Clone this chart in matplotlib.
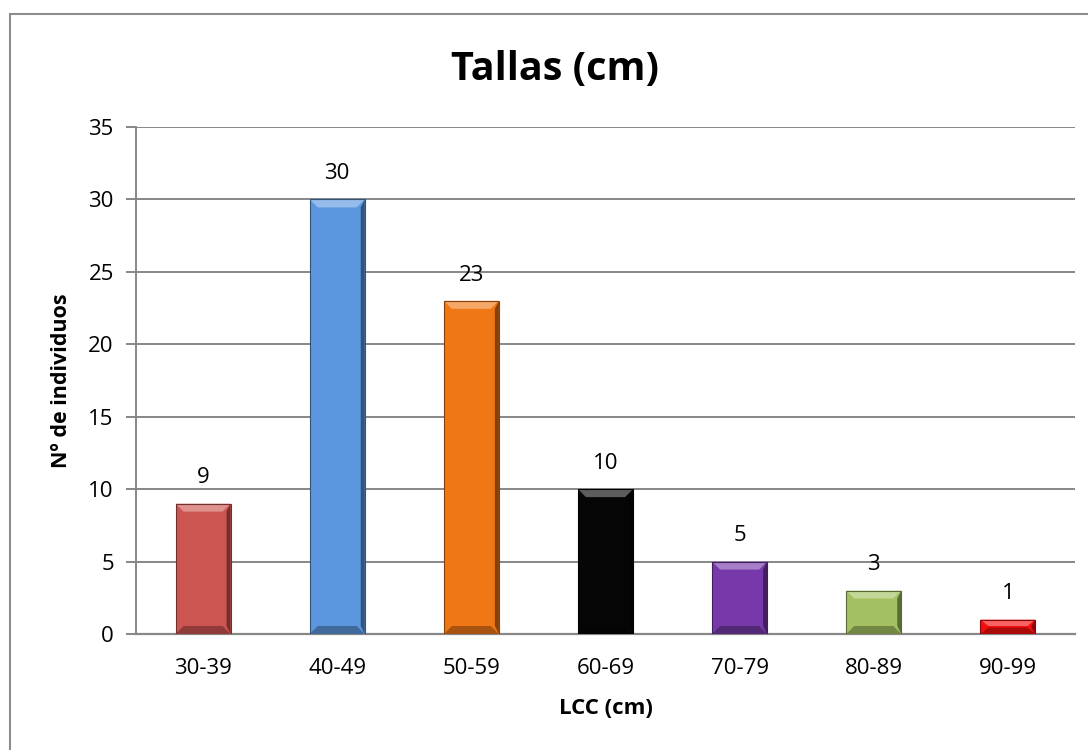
import matplotlib
matplotlib.use("Agg")
import matplotlib.pyplot as plt
from matplotlib.patches import Rectangle, Polygon
import matplotlib.colors as mcolors

plt.rcParams['font.family'] = ['Open Sans', 'DejaVu Sans']

categories = ["30-39", "40-49", "50-59", "60-69", "70-79", "80-89", "90-99"]
counts = [9, 30, 23, 10, 5, 3, 1]
bar_colors = ["#CD5551", "#5B97DE", "#F07715", "#060606", "#7739AA", "#A3C161", "#F40E0E"]

title = "Tallas (cm)"
xlabel = "LCC (cm)"
ylabel = "Nº de individuos"
yticks = [0, 5, 10, 15, 20, 25, 30, 35]

W, H = 1088, 750
fig = plt.figure(figsize=(W / 100, H / 100), dpi=100)

# chart frame (partly outside the canvas on the right and bottom)
fig.patches.append(Rectangle((10 / W, -0.05), 1.1, 1 - 14 / H + 0.05,
                             transform=fig.transFigure, fill=False,
                             edgecolor="#8C8C8C", linewidth=1.5, zorder=0))

left, right, top, bottom = 136, 1075, 127, 634
ax = fig.add_axes([left / W, 1 - bottom / H, (right - left) / W, (bottom - top) / H])

grid_c = "#878787"
x = list(range(len(categories)))
bw = 0.41
tick_fs = 16
ax.set_xlim(-0.5, len(categories) - 0.5)
ax.set_ylim(0, 35)
ax.set_yticks(yticks)
ax.set_yticklabels([str(t) for t in yticks], fontsize=tick_fs)
ax.set_xticks(x)
ax.set_xticklabels(categories, fontsize=tick_fs)
ax.yaxis.grid(True, color=grid_c, linewidth=1.4)
ax.set_axisbelow(True)
for s in ["top", "right"]:
    ax.spines[s].set_visible(False)
ax.spines["left"].set_color(grid_c)
ax.spines["left"].set_linewidth(1.4)
ax.spines["bottom"].set_color(grid_c)
ax.spines["bottom"].set_linewidth(1.6)
ax.tick_params(axis="y", length=7, width=1.4, color=grid_c, pad=9)
ax.tick_params(axis="x", length=0, pad=17)

bars = ax.bar(x, counts, width=bw, color=bar_colors, zorder=3, linewidth=0)

# bevel shading on each bar
px_per_unit = (bottom - top) / 35.0
px_per_cat = (right - left) / len(categories)
for b, c in zip(bars, bar_colors):
    x0, y0 = b.get_x(), b.get_y()
    w, h = b.get_width(), b.get_height()
    bev_y = min(8 / px_per_unit, h * 0.45)
    bev_x = 8 / px_per_cat
    rgb = mcolors.to_rgb(c)
    light = tuple(min(1, v + (1 - v) * 0.35) for v in rgb)
    dark = tuple(v * 0.7 for v in rgb)
    darker = tuple(v * 0.55 for v in rgb)
    top_y = y0 + h
    ax.add_patch(Polygon([(x0, top_y), (x0 + w, top_y), (x0 + w - bev_x, top_y - bev_y),
                          (x0 + bev_x, top_y - bev_y)], closed=True,
                         facecolor=light, linewidth=0, zorder=4))
    ax.add_patch(Polygon([(x0, y0), (x0 + w, y0), (x0 + w - bev_x, y0 + bev_y),
                          (x0 + bev_x, y0 + bev_y)], closed=True,
                         facecolor=dark, linewidth=0, zorder=4))
    ax.add_patch(Polygon([(x0 + w, y0), (x0 + w, top_y), (x0 + w - bev_x * 0.5, top_y - bev_y),
                          (x0 + w - bev_x * 0.5, y0 + bev_y)], closed=True,
                         facecolor=darker, linewidth=0, zorder=4))
    ax.add_patch(Rectangle((x0, y0), w, h, fill=False, edgecolor=darker,
                           linewidth=0.8, zorder=5))
    ax.annotate(str(int(h)), (x0 + w / 2, top_y), xytext=(0, 11),
                textcoords="offset points", ha="center", va="bottom",
                fontsize=tick_fs, color="black")

ax.set_xlabel(xlabel, fontsize=16, fontweight="bold", labelpad=14)
ax.set_ylabel(ylabel, fontsize=15.5, fontweight="bold", labelpad=12)
fig.text(555 / W, 1 - 70 / H, title, ha="center", va="center",
         fontsize=28.5, fontweight="bold")

fig.savefig("out.png", dpi=100, facecolor="white")
